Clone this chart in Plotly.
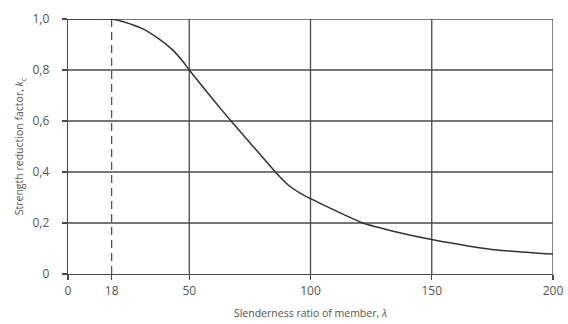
import plotly.graph_objects as go

# Data
lam = [0, 18, 23.5, 30.4, 37.2, 42.8, 47, 50, 60, 67.5, 75, 86, 90.8, 97, 104, 121.6, 135, 151, 165, 177, 200]
kc = [1.0, 1.0, 0.987, 0.963, 0.924, 0.882, 0.838, 0.80, 0.682, 0.597, 0.515, 0.395, 0.349, 0.31, 0.277, 0.20, 0.166, 0.133, 0.11, 0.094, 0.078]

x_ticks = [0, 18, 50, 100, 150, 200]
x_ticktext = ["0", "18", "50", "100", "150", "200"]
y_ticks = [0, 0.2, 0.4, 0.6, 0.8, 1.0]
y_ticktext = ["0", "0,2", "0,4", "0,6", "0,8", "1,0"]
x_grid = [50, 100, 150, 200]
y_grid = [0.2, 0.4, 0.6, 0.8, 1.0]
limit_lambda = 18

GRID = "#4a4a4a"
TEXT = "#555555"
FONT = "Open Sans"

fig = go.Figure()
fig.add_trace(go.Scatter(
    x=lam, y=kc, mode="lines",
    line=dict(color="#333333", width=1.5, shape="spline", smoothing=0.5),
    cliponaxis=False, showlegend=False, hoverinfo="skip",
))

shapes = []
for xv in x_grid:
    shapes.append(dict(type="line", xref="x", yref="y", x0=xv, x1=xv, y0=0, y1=1,
                       line=dict(color=GRID, width=1.3), layer="below"))
for yv in y_grid:
    shapes.append(dict(type="line", xref="x", yref="y", x0=0, x1=200, y0=yv, y1=yv,
                       line=dict(color=GRID, width=1.3), layer="below"))
shapes.append(dict(type="line", xref="x", yref="y", x0=limit_lambda, x1=limit_lambda, y0=0, y1=1,
                   line=dict(color=GRID, width=1.2, dash="8px,5px"), layer="below"))

fig.update_layout(
    width=568, height=324,
    margin=dict(l=68, r=15, t=19, b=50),
    paper_bgcolor="white", plot_bgcolor="white",
    font=dict(family=FONT, color=TEXT, size=11),
    shapes=shapes,
    hovermode=False,
    xaxis=dict(
        range=[0, 200], tickvals=x_ticks, ticktext=x_ticktext, automargin=False,
        showgrid=False, zeroline=False, showline=True, linecolor=GRID, linewidth=1.3,
        ticks="outside", ticklen=5, tickcolor=GRID, tickwidth=1.3,
        tickfont=dict(size=12, color=TEXT, family=FONT),
        title=dict(text="Slenderness ratio of member, <i>λ</i>", font=dict(size=10.5, color=TEXT, family=FONT), standoff=12),
    ),
    yaxis=dict(
        range=[0, 1], tickvals=y_ticks, ticktext=y_ticktext, automargin=False,
        showgrid=False, zeroline=False, showline=True, linecolor=GRID, linewidth=1.3,
        ticks="outside", ticklen=5, tickcolor=GRID, tickwidth=1.3,
        tickfont=dict(size=12, color=TEXT, family=FONT), ticklabelstandoff=10,
        title=dict(text="Strength reduction factor, <i>k</i><sub>c</sub>", font=dict(size=10.5, color=TEXT, family=FONT), standoff=6),
    ),
)

fig.write_html("out.html", config={"displayModeBar": False, "staticPlot": True},
               post_script="document.body.style.margin='0';document.body.style.overflow='hidden';")
